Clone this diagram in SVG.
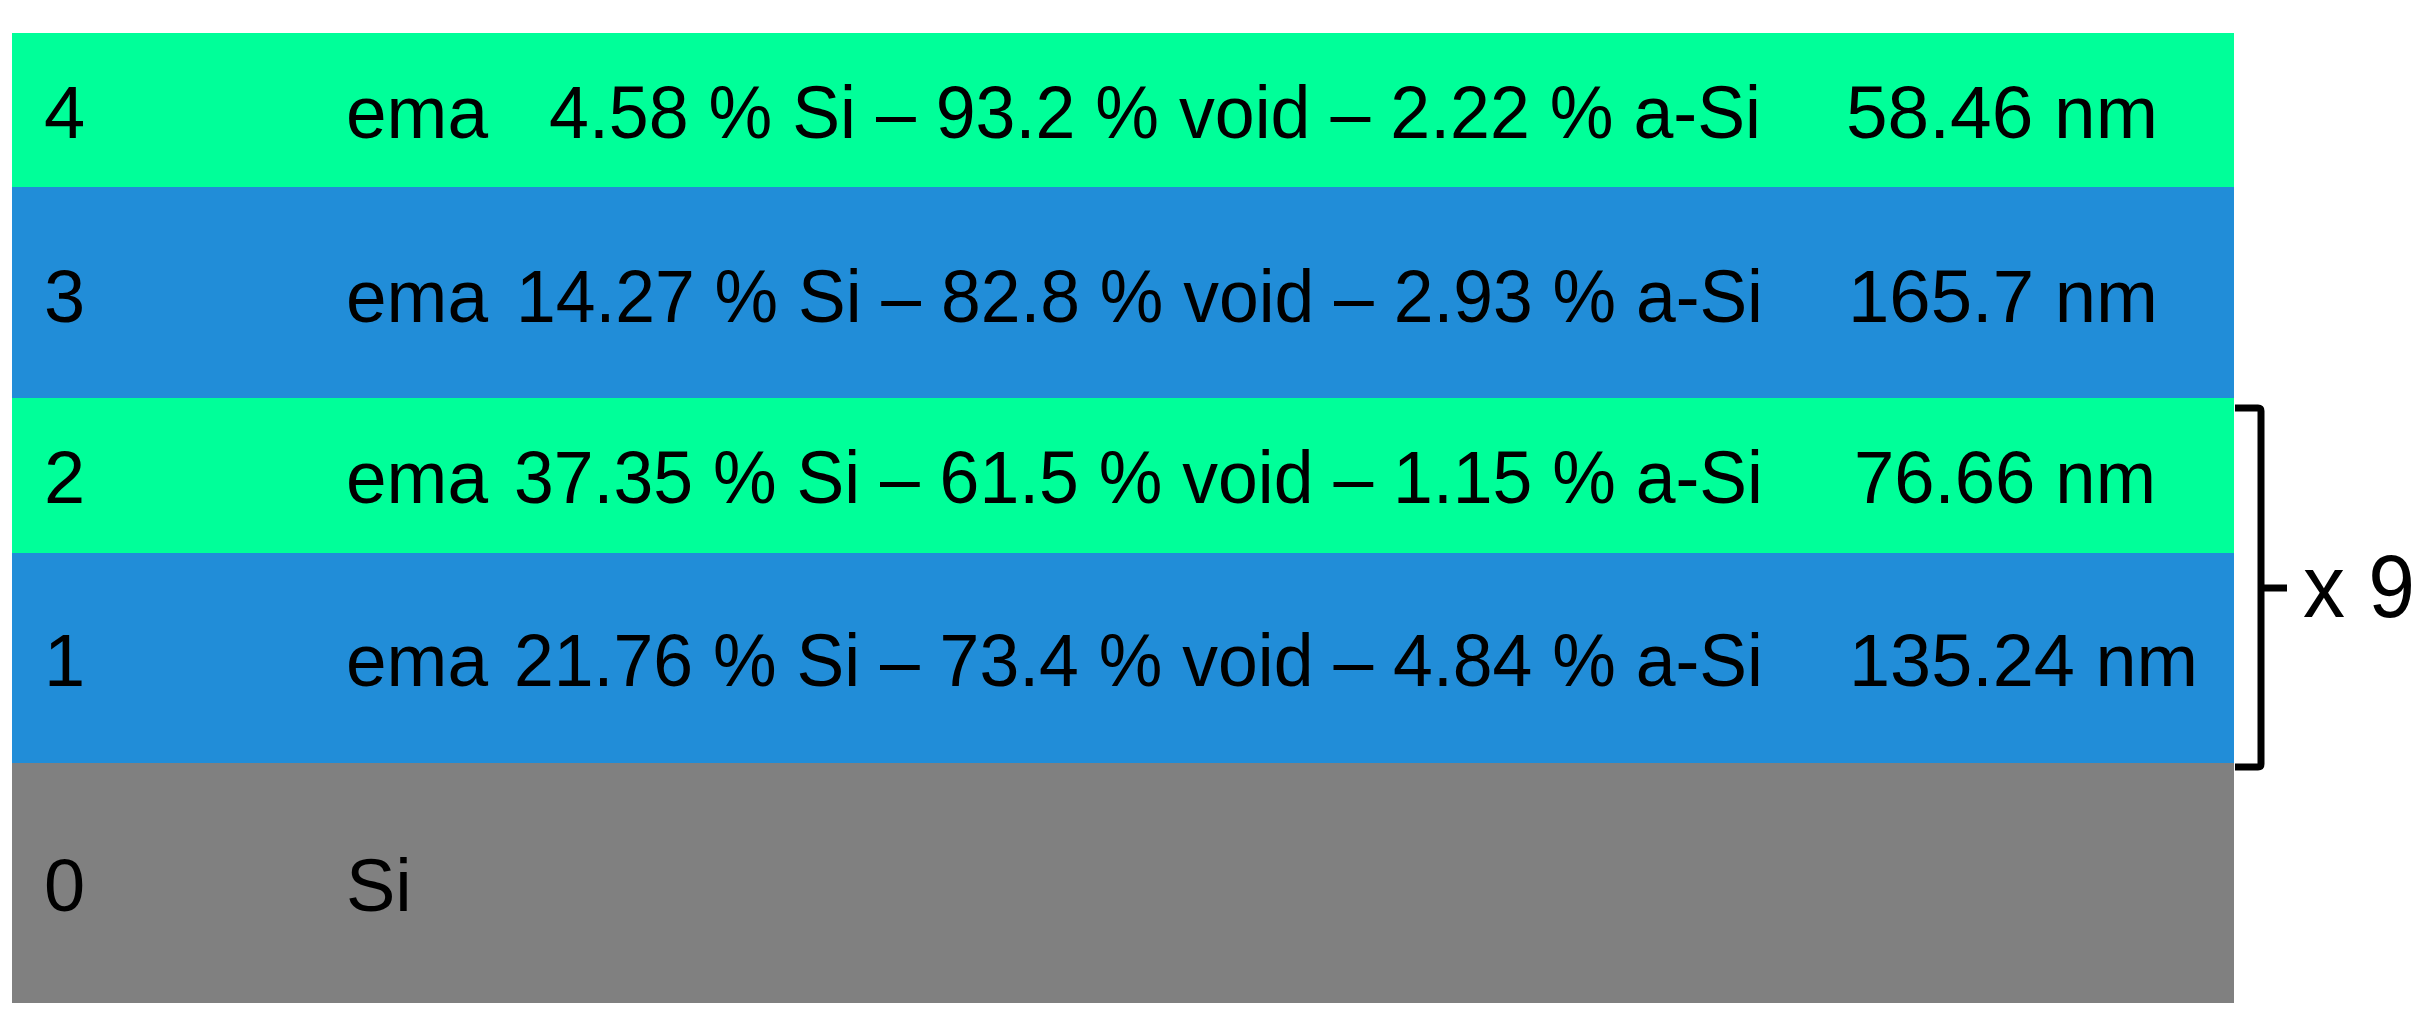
<svg xmlns="http://www.w3.org/2000/svg" width="2430" height="1026" viewBox="0 0 2430 1026">
<style>
.t{font-family:"Liberation Sans",Arial,sans-serif;font-size:74px;fill:#000}
.g{fill:#00FF99}
.b{fill:#218DD8}
.s{fill:#808080}
.br{fill:none;stroke:#000;stroke-width:7;stroke-linejoin:round;stroke-linecap:butt}
</style>
<rect width="2430" height="1026" fill="#fff"/>
<g id="layer4">
<rect class="g" x="12" y="33" width="2222" height="154"/>
<text class="t" x="44" y="138">4</text>
<text class="t" x="346" y="138" textLength="142" lengthAdjust="spacingAndGlyphs">ema</text>
<text class="t" x="549" y="138" textLength="1212" lengthAdjust="spacingAndGlyphs">4.58 % Si – 93.2 % void – 2.22 % a-Si</text>
<text class="t" x="1846" y="138" textLength="312" lengthAdjust="spacingAndGlyphs">58.46 nm</text>
</g>
<g id="layer3">
<rect class="b" x="12" y="187" width="2222" height="211"/>
<text class="t" x="44" y="322">3</text>
<text class="t" x="346" y="322" textLength="142" lengthAdjust="spacingAndGlyphs">ema</text>
<text class="t" x="516" y="322" textLength="1247" lengthAdjust="spacingAndGlyphs">14.27 % Si – 82.8 % void – 2.93 % a-Si</text>
<text class="t" x="1848" y="322" textLength="310" lengthAdjust="spacingAndGlyphs">165.7 nm</text>
</g>
<g id="layer2">
<rect class="g" x="12" y="398" width="2222" height="155"/>
<text class="t" x="44" y="503">2</text>
<text class="t" x="346" y="503" textLength="142" lengthAdjust="spacingAndGlyphs">ema</text>
<text class="t" x="514" y="503" textLength="1249" lengthAdjust="spacingAndGlyphs">37.35 % Si – 61.5 % void – 1.15 % a-Si</text>
<text class="t" x="1854" y="503" textLength="302" lengthAdjust="spacingAndGlyphs">76.66 nm</text>
</g>
<g id="layer1">
<rect class="b" x="12" y="553" width="2222" height="210"/>
<text class="t" x="44" y="686">1</text>
<text class="t" x="346" y="686" textLength="142" lengthAdjust="spacingAndGlyphs">ema</text>
<text class="t" x="514" y="686" textLength="1249" lengthAdjust="spacingAndGlyphs">21.76 % Si – 73.4 % void – 4.84 % a-Si</text>
<text class="t" x="1849" y="686" textLength="349" lengthAdjust="spacingAndGlyphs">135.24 nm</text>
</g>
<g id="layer0">
<rect class="s" x="12" y="763" width="2222" height="240"/>
<text class="t" x="44" y="911">0</text>
<text class="t" x="346" y="911">Si</text>
</g>
<g id="connectors">
<path class="br" d="M2235,408 H2258 Q2261,408 2261,411 V764 Q2261,767 2258,767 H2235"/>
<path class="br" d="M2261,588 H2287"/>
</g>
<g id="repeat-label">
<text class="t" x="2303" y="617" style="font-size:89px" textLength="112" lengthAdjust="spacingAndGlyphs">x 9</text>
</g>
</svg>
